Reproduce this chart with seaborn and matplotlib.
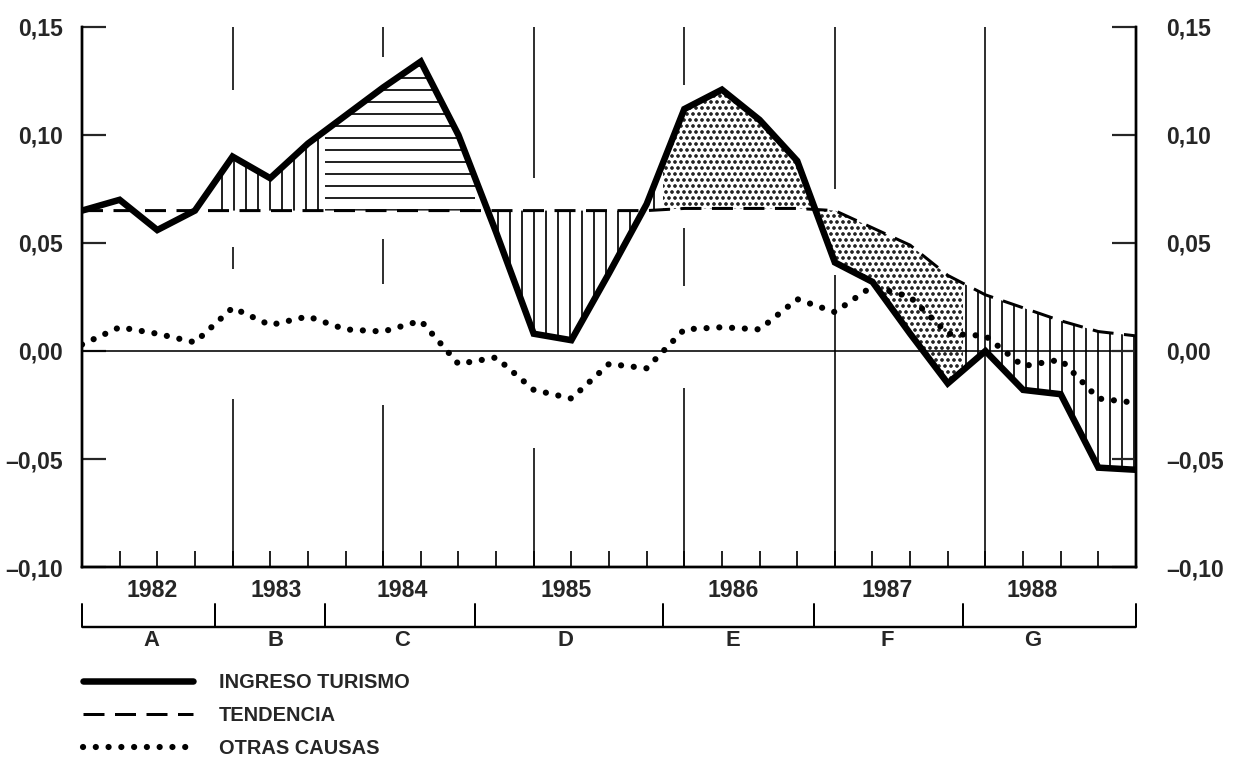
import numpy as np
import matplotlib.pyplot as plt
import seaborn as sns
from matplotlib.patches import Rectangle

# quarter index: 0 = start of 1982 ... 28 = end of 1988
quarters = np.arange(29)

ingreso = [0.065, 0.070, 0.056, 0.065, 0.090, 0.080, 0.096, 0.109, 0.122, 0.134,
           0.100, 0.055, 0.008, 0.005, 0.036, 0.068, 0.112, 0.121, 0.107, 0.088,
           0.041, 0.032, 0.008, -0.015, 0.000, -0.018, -0.020, -0.054, -0.055]
tendencia = [0.065, 0.065, 0.065, 0.065, 0.065, 0.065, 0.065, 0.065, 0.065, 0.065,
             0.065, 0.065, 0.065, 0.065, 0.065, 0.065, 0.066, 0.066, 0.066, 0.066,
             0.065, 0.057, 0.049, 0.035, 0.026, 0.020, 0.014, 0.009, 0.007]
otras = [0.003, 0.011, 0.008, 0.004, 0.020, 0.012, 0.016, 0.010, 0.009, 0.014,
         -0.006, -0.003, -0.018, -0.022, -0.006, -0.008, 0.010, 0.011, 0.010, 0.024,
         0.018, 0.030, 0.025, 0.008, 0.007, -0.007, -0.004, -0.022, -0.024]

# phases shown under the chart (edges in quarter units)
phase_edges = [0, 3.53, 6.45, 10.45, 15.44, 19.44, 23.4, 28]
phase_hatch = [None, '|', '-', '|', '..', '..', '|']
phase_years = ['1982', '1983', '1984', '1985', '1986', '1987', '1988']
phase_letters = ['A', 'B', 'C', 'D', 'E', 'F', 'G']
label_pos = [1.85, 5.15, 8.5, 12.85, 17.3, 21.4, 25.25]

# long year lines (broken in the original drawing)
year_lines = [4, 8, 12, 16, 20, 24]
year_line_parts = [
    [(0.121, 0.15), (0.038, 0.048), (-0.10, -0.022)],
    [(0.136, 0.15), (0.031, 0.052), (-0.10, -0.025)],
    [(0.080, 0.15), (-0.10, -0.045)],
    [(0.123, 0.15), (0.030, 0.057), (-0.10, -0.017)],
    [(0.075, 0.15), (-0.10, 0.035)],
    [(-0.10, 0.15)],
]

y_ticks = [0.15, 0.10, 0.05, 0.00, -0.05, -0.10]
y_labels = ['0,15', '0,10', '0,05', '0,00', '\u20130,05', '\u20130,10']

sns.set_style('white')
plt.rcParams['font.family'] = ['Liberation Sans', 'DejaVu Sans']
plt.rcParams['hatch.linewidth'] = 1.7
plt.rcParams['hatch.color'] = 'black'

W, H, DPI = 1241, 758, 72
fig = plt.figure(figsize=(W / DPI, H / DPI), dpi=DPI)
ax = fig.add_axes([82 / W, (H - 567) / H, (1136 - 82) / W, 540 / H])

# shaded phases between ingreso and tendencia
for i, h in enumerate(phase_hatch):
    if h is None:
        continue
    x0, x1 = phase_edges[i], phase_edges[i + 1]
    poly = ax.fill_between(quarters, ingreso, tendencia, facecolor='none',
                           edgecolor='black', linewidth=0, hatch=h, zorder=1)
    if h == '..' and hasattr(poly, 'set_hatch_linewidth'):
        poly.set_hatch_linewidth(2.3)
    poly.set_clip_path(Rectangle((x0, -1), x1 - x0, 2, transform=ax.transData))

for xv, parts in zip(year_lines, year_line_parts):
    for lo, hi in parts:
        ax.vlines(xv, lo, hi, color='black', lw=1.6, zorder=1.5)

ax.axhline(0, color='black', lw=1.6, zorder=2)

sns.lineplot(x=quarters, y=tendencia, ax=ax, color='black', lw=3,
             linestyle=(0, (7, 3.5)), label='TENDENCIA', zorder=3)
sns.lineplot(x=quarters, y=otras, ax=ax, color='black', lw=6.2,
             linestyle=(0, (0.01, 2.05)), dash_capstyle='round',
             label='OTRAS CAUSAS', zorder=4)
sns.lineplot(x=quarters, y=ingreso, ax=ax, color='black', lw=6.5,
             solid_joinstyle='miter', solid_capstyle='round',
             label='INGRESO TURISMO', zorder=5)

ax.set_xlim(0, 28)
ax.set_ylim(-0.10, 0.15)
ax.set_xticks(quarters[1:-1])
ax.set_xticklabels([])
ax.tick_params(axis='x', direction='in', length=16, width=2, bottom=True)
ax.set_yticks(y_ticks)
ax.set_yticklabels(y_labels, fontsize=23, fontweight='bold')
ax.tick_params(axis='y', direction='in', length=24, width=2.2, left=True, pad=19)
ax.set_xlabel('')
ax.set_ylabel('')

ax2 = ax.twinx()
ax2.set_ylim(-0.10, 0.15)
ax2.set_yticks(y_ticks)
ax2.set_yticklabels(y_labels, fontsize=23, fontweight='bold')
ax2.tick_params(axis='y', direction='in', length=24, width=2.2, right=True, pad=30)

for a in (ax, ax2):
    a.spines['top'].set_visible(False)
    for s in ('left', 'right', 'bottom'):
        a.spines[s].set_linewidth(2.4)
        a.spines[s].set_color('black')

# phase row under the axis
trans = ax.get_xaxis_transform()
base = -0.111
ax.plot([0, 28], [base, base], transform=trans, color='black', lw=2.4,
        clip_on=False, solid_capstyle='butt')
for xe in phase_edges:
    ax.plot([xe, xe], [base, -0.068], transform=trans, color='black', lw=2,
            clip_on=False)
for xp, yr, lt in zip(label_pos, phase_years, phase_letters):
    ax.text(xp, -0.044, yr, transform=trans, ha='center', va='center',
            fontsize=23, fontweight='bold')
    ax.text(xp, -0.136, lt, transform=trans, ha='center', va='center',
            fontsize=22, fontweight='bold')

handles, labels = ax.get_legend_handles_labels()
order = [2, 0, 1]
ax.legend([handles[i] for i in order], [labels[i] for i in order],
          loc='upper left', bbox_to_anchor=(83 / W, (H - 673) / H),
          bbox_transform=fig.transFigure, frameon=False,
          prop={'size': 20, 'weight': 'bold'}, handlelength=5.5,
          handletextpad=1.3, labelspacing=0.7, borderpad=0, borderaxespad=0)

fig.savefig('out.png', dpi=DPI, facecolor='white')
